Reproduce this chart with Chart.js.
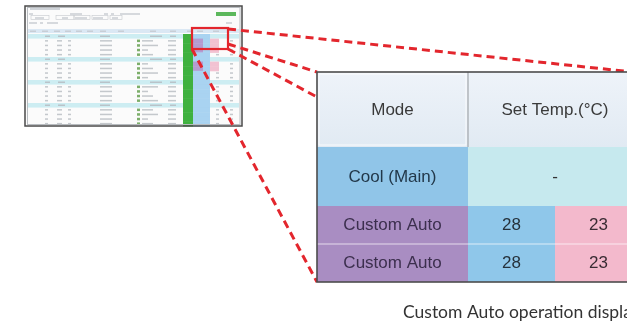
<!DOCTYPE html>
<html>
<head>
<meta charset="utf-8">
<script src="https://cdn.jsdelivr.net/npm/chart.js@4"></script>
<style>
  html, body { margin: 0; padding: 0; background: #fff; }
  #wrap { width: 627px; height: 331px; }
</style>
</head>
<body>
<div id="wrap"><canvas id="zoomChart" width="627" height="331"></canvas></div>
<script>
// Table content (zoomed part of the screen)
const headerLabels = ["Mode", "Set Temp.(°C)"];
const modeLabels = ["Cool (Main)", "Custom Auto", "Custom Auto"];
const coolTemps = [28, 28];
const heatTemps = [23, 23];
const mainTempLabel = "-";
const caption = "Custom Auto operation display";

// Thumbnail rows: g = group row, d = unit row; mode colour of each row
const thumbRows = ["g", "d", "d", "d", "d", "g", "d", "d", "d", "d", "g", "d", "d", "d", "d", "g", "d", "d", "d", "d"];
const thumbModes = ["c", "a", "a", "a", "c", "c", "a", "a", "c", "c", "c", "c", "c", "c", "c", "c", "c", "c", "c", "c"];

// layout (in canvas units)
const colEdges = [317, 468, 555, 642, 660];
const rowEdges = [72, 147, 206, 244, 282];
const thumb = { x0: 25, y0: 6, x1: 242, y1: 126 };
const box = { x0: 192, y0: 28, x1: 228, y1: 49 };

const RED = "#e3262d";
const FONT = "'Liberation Sans', Arial, sans-serif";

function drawThumb(ctx, X, Y) {
  const px = (v) => X.getPixelForValue(v);
  const py = (v) => Y.getPixelForValue(v);
  ctx.save();
  ctx.fillStyle = "#fbfbfb";
  ctx.fillRect(px(thumb.x0), py(thumb.y0), px(thumb.x1) - px(thumb.x0), py(thumb.y1) - py(thumb.y0));

  // title bar / toolbar blobs
  ctx.fillStyle = "#cfd3d8";
  ctx.fillRect(px(30), py(8), 30, 2);
  ctx.fillStyle = "#d6d9dd";
  [[29, 13, 4], [70, 13, 12], [104, 13, 4], [111, 13, 3], [120, 13, 20],
   [35, 17, 9], [62, 17, 6], [75, 17, 12], [93, 17, 10], [112, 17, 6],
   [29, 22, 8], [40, 22, 3], [47, 22, 11], [226, 22, 6]].forEach(b => {
    ctx.fillRect(px(b[0]), py(b[1]), b[2], 2);
  });
  ctx.strokeStyle = "#c5c9ce";
  ctx.lineWidth = 0.6;
  [[31, 15.5, 18], [56, 15.5, 18], [74, 15.5, 16], [92, 15.5, 16], [110, 15.5, 12]].forEach(b => {
    ctx.strokeRect(px(b[0]), py(b[1]), b[2], 4);
  });
  ctx.fillStyle = "#5cb85c";
  ctx.fillRect(px(216), py(12), px(236) - px(216), 4);

  // column header row
  ctx.fillStyle = "#dbe8f4";
  ctx.fillRect(px(28), py(29), px(239) - px(28), py(33) - py(29));
  ctx.fillStyle = "#c8ced6";
  [30, 42, 54, 65, 76, 87, 100, 118, 150, 170, 187, 197, 213].forEach(x => ctx.fillRect(px(x), py(30.5), 6, 1.5));

  // rows
  const rowH = 4.6;
  let y = 34;
  thumbRows.forEach((r, i) => {
    if (r === "g") {
      ctx.fillStyle = "#cdedf2";
      ctx.fillRect(px(28), py(y), px(239) - px(28), rowH);
      ctx.fillStyle = "#b9c3c9";
      ctx.fillRect(px(45), py(y + 1.5), 5, 1.5);
      ctx.fillRect(px(58), py(y + 1.5), 7, 1.5);
      ctx.fillRect(px(100), py(y + 1.5), 10, 1.5);
      ctx.fillRect(px(150), py(y + 1.5), 12, 1.5);
      ctx.fillRect(px(170), py(y + 1.5), 6, 1.5);
    } else {
      ctx.fillStyle = "#c4c8cc";
      ctx.fillRect(px(45), py(y + 1.5), 3, 1.5);
      ctx.fillRect(px(57), py(y + 1.5), 5, 1.5);
      ctx.fillRect(px(68), py(y + 1.5), 3, 1.5);
      ctx.fillRect(px(100), py(y + 1.5), 12, 1.5);
      ctx.fillStyle = "#7cae6a";
      ctx.fillRect(px(137), py(y + 1), 3, 2.5);
      ctx.fillStyle = "#c4c8cc";
      ctx.fillRect(px(142), py(y + 1.5), 6 + (i % 3) * 5, 1.5);
      ctx.fillRect(px(168), py(y + 1.5), 8, 1.5);
      ctx.fillRect(px(216), py(y + 1.5), 3, 1.5);
      ctx.fillRect(px(230), py(y + 1.5), 3, 1.5);
    }
    // green status column
    ctx.fillStyle = "#3fb13f";
    ctx.fillRect(px(183), py(y), px(193) - px(183), rowH + 0.5);
    // mode column
    ctx.fillStyle = thumbModes[i] === "a" ? "#b59bd0" : "#a9d3f1";
    ctx.fillRect(px(193), py(y), px(203) - px(193), rowH + 0.5);
    ctx.fillStyle = "#a9d3f1";
    ctx.fillRect(px(203), py(y), px(210) - px(203), rowH + 0.5);
    if (thumbModes[i] === "a") {
      ctx.fillStyle = "#f2c2d2";
      ctx.fillRect(px(210), py(y), px(219) - px(210), rowH + 0.5);
    }
    y += rowH;
  });
  ctx.fillStyle = "#a9d3f1";
  ctx.fillRect(px(193), py(y), px(210) - px(193), py(123) - py(y));
  ctx.fillStyle = "#3fb13f";
  ctx.fillRect(px(183), py(y), px(193) - px(183), py(123) - py(y));

  // frame
  ctx.strokeStyle = "#b8bcc0";
  ctx.lineWidth = 1;
  ctx.strokeRect(px(27.5), py(7.5), px(240) - px(27.5), py(124.5) - py(7.5));
  ctx.strokeStyle = "#4a4a4a";
  ctx.lineWidth = 1.5;
  ctx.strokeRect(px(thumb.x0), py(thumb.y0), px(thumb.x1) - px(thumb.x0), py(thumb.y1) - py(thumb.y0));
  ctx.restore();
}

function dashed(ctx, X, Y, a, b) {
  ctx.beginPath();
  ctx.moveTo(X.getPixelForValue(a[0]), Y.getPixelForValue(a[1]));
  ctx.lineTo(X.getPixelForValue(b[0]), Y.getPixelForValue(b[1]));
  ctx.stroke();
}

function drawTable(ctx, X, Y) {
  const px = (v) => X.getPixelForValue(v);
  const py = (v) => Y.getPixelForValue(v);
  const cell = (c0, c1, r0, r1, color) => {
    ctx.fillStyle = color;
    ctx.fillRect(px(c0), py(r0), px(c1) - px(c0), py(r1) - py(r0));
  };
  const text = (s, cx, cy, color) => {
    ctx.fillStyle = color;
    ctx.fillText(s, px(cx), py(cy));
  };
  const mid = (a, b) => (a + b) / 2;

  ctx.save();
  // header
  const grad = ctx.createLinearGradient(0, py(rowEdges[0]), 0, py(rowEdges[1]));
  grad.addColorStop(0, "#eef3f9");
  grad.addColorStop(1, "#e1eaf3");
  ctx.fillStyle = grad;
  ctx.fillRect(px(colEdges[0]), py(rowEdges[0]), px(colEdges[4]) - px(colEdges[0]), py(rowEdges[1]) - py(rowEdges[0]));
  // cool (main) row
  cell(colEdges[0], colEdges[1], rowEdges[1], rowEdges[2], "#90c5e8");
  cell(colEdges[1], colEdges[4], rowEdges[1], rowEdges[2], "#c6e9ee");
  // custom auto rows
  for (let i = 0; i < coolTemps.length; i++) {
    const r0 = rowEdges[2 + i], r1 = rowEdges[3 + i];
    cell(colEdges[0], colEdges[1], r0, r1, "#a98dc2");
    cell(colEdges[1], colEdges[2], r0, r1, "#8fc7ea");
    cell(colEdges[2], colEdges[4], r0, r1, "#f3b9cc");
  }
  // soft row separator between custom rows
  ctx.strokeStyle = "rgba(255,255,255,0.35)";
  ctx.lineWidth = 2;
  ctx.beginPath();
  ctx.moveTo(px(colEdges[0]), py(rowEdges[3]));
  ctx.lineTo(px(colEdges[4]), py(rowEdges[3]));
  ctx.stroke();
  // header divider
  ctx.strokeStyle = "#a2a6aa";
  ctx.lineWidth = 1.2;
  ctx.beginPath();
  ctx.moveTo(px(colEdges[1]), py(rowEdges[0]));
  ctx.lineTo(px(colEdges[1]), py(rowEdges[1]));
  ctx.stroke();
  ctx.strokeStyle = "rgba(255,255,255,0.8)";
  ctx.lineWidth = 1;
  ctx.strokeRect(px(colEdges[0]) + 2, py(rowEdges[0]) + 2, px(colEdges[1]) - px(colEdges[0]) - 4, py(rowEdges[1]) - py(rowEdges[0]) - 4);

  // texts
  ctx.font = "17px " + FONT;
  ctx.textAlign = "center";
  ctx.textBaseline = "middle";
  text(headerLabels[0], mid(colEdges[0], colEdges[1]), 110, "#3a3a3a");
  text(headerLabels[1], mid(colEdges[1], colEdges[3]), 110, "#3a3a3a");
  text(modeLabels[0], mid(colEdges[0], colEdges[1]), mid(rowEdges[1], rowEdges[2]) + 1, "#22384a");
  text(mainTempLabel, mid(colEdges[1], colEdges[3]), mid(rowEdges[1], rowEdges[2]) + 1, "#333");
  for (let i = 0; i < coolTemps.length; i++) {
    const cy = mid(rowEdges[2 + i], rowEdges[3 + i]);
    text(modeLabels[1 + i], mid(colEdges[0], colEdges[1]), cy, "#3c2f4e");
    text(String(coolTemps[i]), mid(colEdges[1], colEdges[2]), cy, "#26323c");
    text(String(heatTemps[i]), mid(colEdges[2], colEdges[3]), cy, "#3a2c34");
  }

  // outer border
  ctx.strokeStyle = "#4d4d4d";
  ctx.lineWidth = 1.6;
  ctx.strokeRect(px(colEdges[0]), py(rowEdges[0]), px(colEdges[4]) - px(colEdges[0]), py(rowEdges[4]) - py(rowEdges[0]));
  ctx.restore();
}

const calloutPlugin = {
  id: "callout",
  beforeDatasetsDraw(chart) {
    const { ctx } = chart;
    const X = chart.scales.x, Y = chart.scales.y;
    drawThumb(ctx, X, Y);

    // red frame on the thumbnail
    ctx.save();
    ctx.strokeStyle = RED;
    ctx.lineWidth = 2.2;
    ctx.strokeRect(X.getPixelForValue(box.x0), Y.getPixelForValue(box.y0),
      X.getPixelForValue(box.x1) - X.getPixelForValue(box.x0), Y.getPixelForValue(box.y1) - Y.getPixelForValue(box.y0));

    // dashed leader lines to the corners of the zoomed table
    ctx.lineWidth = 3;
    ctx.setLineDash([8, 5]);
    dashed(ctx, X, Y, [box.x1, box.y0 + 1], [colEdges[4] + 10, rowEdges[0] + 4]);
    dashed(ctx, X, Y, [box.x1, box.y0 + 16], [colEdges[0], rowEdges[0]]);
    dashed(ctx, X, Y, [box.x1, box.y1], [colEdges[4], rowEdges[4]]);
    dashed(ctx, X, Y, [box.x0, box.y1], [colEdges[0], rowEdges[4]]);
    ctx.restore();

    drawTable(ctx, X, Y);

    // caption
    ctx.save();
    ctx.font = "17.5px Lato, 'Open Sans', sans-serif";
    ctx.fillStyle = "#333";
    ctx.textAlign = "left";
    ctx.textBaseline = "alphabetic";
    ctx.fillText(caption, X.getPixelForValue(403), Y.getPixelForValue(318));
    ctx.restore();
  }
};

new Chart(document.getElementById("zoomChart"), {
  type: "scatter",
  data: { datasets: [{ data: [], pointRadius: 0 }] },
  options: {
    responsive: false,
    animation: false,
    devicePixelRatio: 1,
    layout: { padding: 0 },
    plugins: { legend: { display: false }, tooltip: { enabled: false } },
    scales: {
      x: { type: "linear", min: 0, max: 627, display: false },
      y: { type: "linear", min: 0, max: 331, reverse: true, display: false }
    }
  },
  plugins: [calloutPlugin]
});
</script>
</body>
</html>
